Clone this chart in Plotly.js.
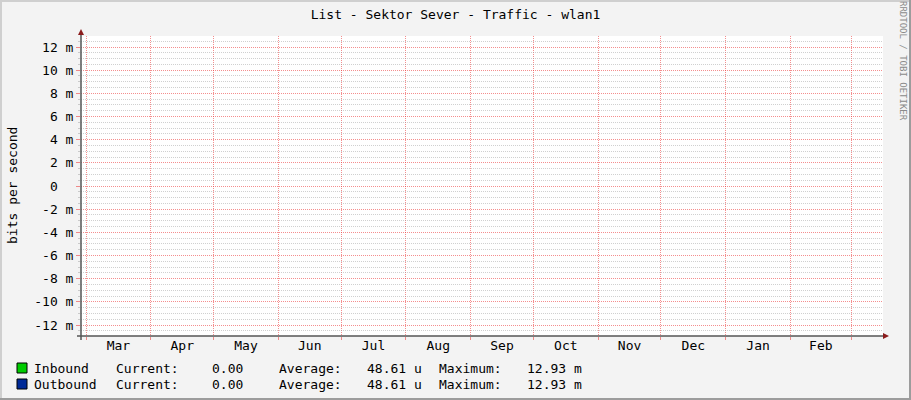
<!DOCTYPE html>
<html>
<head>
<meta charset="utf-8">
<script src="https://cdn.plot.ly/plotly-3.0.1.min.js"></script>
<style>
html,body{margin:0;padding:0;background:#f3f3f3;}
#chart{width:911px;height:400px;}
</style>
</head>
<body>
<div id="chart"></div>
<script>
// ---- data ----
const monthStarts = ['2019-03-01','2019-04-01','2019-05-01','2019-06-01','2019-07-01','2019-08-01',
  '2019-09-01','2019-10-01','2019-11-01','2019-12-01','2020-01-01','2020-02-01','2020-03-01'];
const monthLabels = ['Mar','Apr','May','Jun','Jul','Aug','Sep','Oct','Nov','Dec','Jan','Feb'];
const sampleDates = ['2019-02-26','2019-03-01','2019-04-01','2019-05-01','2019-06-01','2019-07-01','2019-08-01',
  '2019-09-01','2019-10-01','2019-11-01','2019-12-01','2020-01-01','2020-02-01','2020-03-01','2020-03-16'];
const inbound  = [0,0,0,0,0,0,0,0,0,0,0,0,0,0,0];
const outbound = [0,0,0,0,0,0,0,0,0,0,0,0,0,0,0];
const yTickVals = [-0.012,-0.010,-0.008,-0.006,-0.004,-0.002,0,0.002,0.004,0.006,0.008,0.010,0.012];
const yTickText = ['-12 m','-10 m','-8 m','-6 m','-4 m','-2 m','0\u00a0\u00a0','2 m','4 m','6 m','8 m','10 m','12 m'];
const seriesNames = ['Inbound','Outbound'];
const seriesColors = ['#00CC00','#002A97'];
const currentVals = ['0.00','0.00'];
const averageVals = ['48.61 u','48.61 u'];
const maximumVals = ['12.93 m','12.93 m'];
const chartTitle = 'List - Sektor Sever - Traffic - wlan1';
const yTitle = 'bits per second';
const watermark = 'RRDTOOL / TOBI OETIKER';

// ---- geometry helpers (pixel -> paper) ----
const L = 81, R = 883, T = 36, B = 336, W = 911, H = 400;
const px = v => (v - L) / (R - L);
const py = v => (B - v) / (B - T);

const mid = (a, b) => new Date((new Date(a).getTime() + new Date(b).getTime()) / 2).toISOString();
const labelPos = monthLabels.map((_, i) => mid(monthStarts[i], monthStarts[i + 1]));

// minor grid every 0.5 m, skipping the major (2 m) positions
const yMinorVals = [];
for (let k = -25; k <= 25; k++) { if (k % 4 !== 0) yMinorVals.push(k * 0.0005); }

const FONT = 'DejaVu Sans Mono, monospace';
const MAJOR = 'rgba(235,50,50,0.55)';
const MINOR = 'rgba(150,150,150,0.45)';

const traces = [
  {x: sampleDates, y: inbound, type: 'scatter', mode: 'lines', fill: 'tozeroy',
   fillcolor: seriesColors[0], line: {width: 0, color: seriesColors[0]}, name: seriesNames[0]},
  {x: sampleDates, y: outbound.map(v => -v), type: 'scatter', mode: 'lines', fill: 'tozeroy',
   fillcolor: seriesColors[1], line: {width: 0, color: seriesColors[1]}, name: seriesNames[1]}
];

const shapes = [
  // outer frame
  {type:'rect', xref:'paper', yref:'paper', x0:px(0), x1:px(W), y0:py(0), y1:py(2), fillcolor:'#cfcfcf', line:{width:0}, layer:'below'},
  {type:'rect', xref:'paper', yref:'paper', x0:px(0), x1:px(2), y0:py(0), y1:py(H), fillcolor:'#cfcfcf', line:{width:0}, layer:'below'},
  {type:'rect', xref:'paper', yref:'paper', x0:px(0), x1:px(W), y0:py(H-2), y1:py(H), fillcolor:'#9c9c9c', line:{width:0}, layer:'below'},
  {type:'rect', xref:'paper', yref:'paper', x0:px(W-2), x1:px(W), y0:py(0), y1:py(H), fillcolor:'#9c9c9c', line:{width:0}, layer:'below'},
  // axes
  {type:'line', xref:'paper', yref:'paper', x0:px(81), x1:px(81), y0:py(340), y1:py(31), line:{color:'#555555', width:1.5}},
  {type:'line', xref:'paper', yref:'paper', x0:px(77), x1:px(885), y0:py(336), y1:py(336), line:{color:'#555555', width:1.5}},
  // arrows
  {type:'path', xref:'paper', yref:'paper',
   path:`M ${px(78)} ${py(35)} L ${px(84)} ${py(35)} L ${px(81)} ${py(29)} Z`, fillcolor:'#8b1c1c', line:{width:0}},
  {type:'path', xref:'paper', yref:'paper',
   path:`M ${px(883)} ${py(333)} L ${px(883)} ${py(339)} L ${px(889)} ${py(336)} Z`, fillcolor:'#8b1c1c', line:{width:0}}
];

const annotations = [
  {text: watermark, xref:'paper', yref:'paper', x:px(903), y:py(61), textangle:90, showarrow:false,
   font:{family:FONT, size:9, color:'#8a8a8a'}, xanchor:'center', yanchor:'middle'},
  {text: yTitle, xref:'paper', yref:'paper', x:px(12), y:py(186), textangle:-90, showarrow:false,
   font:{family:FONT, size:13, color:'#000'}, xanchor:'center', yanchor:'middle'}
];
const cols = [32, 114, 210, 277, 365, 437, 525];
seriesNames.forEach((n, i) => {
  const yc = [368, 384][i];
  shapes.push({type:'rect', xref:'paper', yref:'paper', x0:px(17), x1:px(27), y0:py(yc+5), y1:py(yc-5),
    fillcolor: seriesColors[i], line:{color:'#000', width:1}});
  const items = [n, 'Current:', currentVals[i], 'Average:', averageVals[i], 'Maximum:', maximumVals[i]];
  items.forEach((t, j) => annotations.push({text: t, xref:'paper', yref:'paper', x:px(cols[j]), y:py(yc),
    xanchor:'left', yanchor:'middle', showarrow:false, font:{family:FONT, size:13, color:'#000'}}));
});

const layout = {
  width: W, height: H,
  margin: {l: L, r: W - R, t: T, b: H - B, pad: 0},
  paper_bgcolor: '#f3f3f3', plot_bgcolor: '#ffffff',
  showlegend: false,
  font: {family: FONT, size: 13, color: '#000'},
  title: {text: chartTitle, x: 0.5, xref: 'container', y: 1 - 14 / H, yref: 'container',
          xanchor: 'center', yanchor: 'middle', font: {family: FONT, size: 13, color: '#000'}},
  xaxis: {
    type: 'date', range: ['2019-02-26 14:00', '2020-03-16 06:00'],
    tickmode: 'array', tickvals: labelPos, ticktext: monthLabels,
    ticks: '', showgrid: false, zeroline: false, showline: false,
    tickfont: {family: FONT, size: 13, color: '#000'},
    minor: {tickmode: 'array', tickvals: monthStarts, showgrid: true, gridcolor: MAJOR,
            griddash: '1px,1px', gridwidth: 1, ticks: 'outside', ticklen: 3, tickcolor: MAJOR},
    fixedrange: true
  },
  yaxis: {
    range: [-0.01295, 0.01295],
    tickmode: 'array', tickvals: yTickVals, ticktext: yTickText,
    showgrid: true, gridcolor: MAJOR, griddash: '1px,1px', gridwidth: 1,
    ticks: 'outside', ticklen: 4, tickcolor: MAJOR,
    zeroline: false, showline: false,
    tickfont: {family: FONT, size: 13, color: '#000'},
    minor: {tickmode: 'array', tickvals: yMinorVals, showgrid: true, gridcolor: MINOR, griddash: '1px,1px',
            gridwidth: 1, ticks: 'outside', ticklen: 2, tickcolor: MINOR},
    fixedrange: true
  },
  shapes: shapes,
  annotations: annotations
};

Plotly.newPlot('chart', traces, layout, {staticPlot: true, displayModeBar: false});
</script>
</body>
</html>
